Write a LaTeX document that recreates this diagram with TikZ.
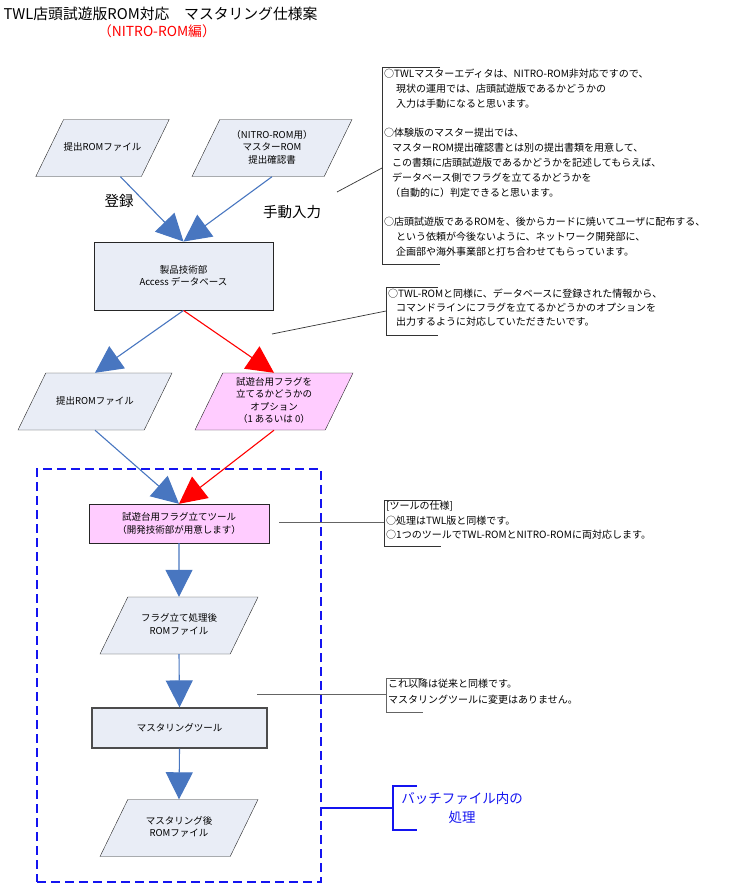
\documentclass[tikz,border=0pt]{standalone}
\usepackage{fontspec}
\setmainfont{Noto Sans CJK JP}
\usetikzlibrary{shapes.geometric,arrows.meta}
\definecolor{romfill}{RGB}{233,237,246}
\definecolor{flagfill}{RGB}{255,204,255}
\definecolor{flowblue}{RGB}{72,118,192}
\definecolor{batchblue}{RGB}{20,20,240}
\definecolor{notegray}{RGB}{100,100,100}
\newcommand{\romlines}[1]{\begin{tabular}{@{}c@{}}#1\end{tabular}}
\tikzset{
  romfile/.style={trapezium, trapezium left angle=64, trapezium right angle=116,
    trapezium stretches body=true, draw=black!85, fill=romfill,
    inner sep=0pt, text height=30.9pt, text depth=26.1pt,
    font=\fontsize{9.5}{12.5}\selectfont},
  procbox/.style={rectangle, draw=black!85, fill=romfill, inner sep=0pt,
    align=center, font=\fontsize{9.5}{12.5}\selectfont},
  blueflow/.style={draw=flowblue, line width=1.1pt, -{Triangle[width=27pt,length=27pt]}},
  redflow/.style={draw=red, line width=1.1pt, -{Triangle[width=27pt,length=27pt]}},
  memo/.style={anchor=north west, align=left, inner sep=0pt, font=\fontsize{10}{14.8}\selectfont},
  memoline/.style={draw=black!80, line width=0.7pt},
  bigword/.style={font=\fontsize{14.5}{17}\selectfont},
}
\begin{document}
\begin{tikzpicture}[x=1pt,y=-1pt]
\useasboundingbox (0,0) rectangle (742,884);
\node[anchor=west, font=\fontsize{14.8}{16}\selectfont] (title) at (0,14) {TWL店頭試遊版ROM対応　マスタリング仕様案};
\node[red, font=\fontsize{13.8}{16}\selectfont] (subtitle) at (157,31) {（NITRO-ROM編）};

\node[draw=batchblue, dash pattern=on 9pt off 5pt, line width=1.3pt, minimum width=284, minimum height=413, inner sep=0pt] (batch) at (179,675.5) {};

\node[romfile, minimum width=121] (teishutsu) at (102.5,148) {\romlines{提出ROMファイル}};
\node[romfile, minimum width=160] (kakunin) at (272,148) {\romlines{（NITRO-ROM用）\\マスターROM\\提出確認書}};
\node[procbox, minimum width=179, minimum height=68, line width=0.9pt] (db) at (183.5,276) {製品技術部\\Access データベース};
\node[romfile, minimum width=154] (subrom) at (95,401.5) {\romlines{提出ROMファイル}};
\node[romfile, fill=flagfill, minimum width=158] (flagopt) at (274,401.5) {\romlines{試遊台用フラグを\\立てるかどうかの\\オプション\\（1 あるいは 0）}};
\node[procbox, fill=flagfill, minimum width=180, minimum height=39] (tool) at (179,523.5) {試遊台用フラグ立てツール\\（開発技術部が用意します）};
\node[romfile, minimum width=158] (flagrom) at (179,625.5) {\romlines{フラグ立て処理後\\ROMファイル}};
\node[procbox, draw=black!70, line width=1.2pt, minimum width=175, minimum height=40] (master) at (179.5,728) {マスタリングツール};
\node[romfile, minimum width=158] (masterrom) at (179,828) {\romlines{マスタリング後\\ROMファイル}};

\node[bigword] (toroku) at (119,201) {登録};
\node[bigword] (shudo) at (292,212) {手動入力};

\draw[blueflow] (teishutsu.-58) -- (db.north);
\draw[blueflow] (kakunin.south) -- (db.north);
\draw[blueflow] (db.south) -- (subrom.north);
\draw[redflow] (db.south) -- (flagopt.north);
\draw[blueflow] (subrom.south) -- (tool.north);
\draw[redflow] (flagopt.south) -- (tool.north);
\draw[blueflow] (tool.south) -- (flagrom.north);
\draw[blueflow] (flagrom.south) -- (master.north);
\draw[blueflow] (master.south) -- (masterrom.north);

\draw[memoline] (440,67) -- (382,67) -- (382,264) -- (440,264);
\node[memo] (memo1) at (384,69) {○TWLマスターエディタは、NITRO-ROM非対応ですので、\\
\hspace*{1.2em}現状の運用では、店頭試遊版であるかどうかの\\
\hspace*{1.2em}入力は手動になると思います。\\[14.8pt]
○体験版のマスター提出では、\\
\hspace*{0.8em}マスターROM提出確認書とは別の提出書類を用意して、\\
\hspace*{0.8em}この書類に店頭試遊版であるかどうかを記述してもらえば、\\
\hspace*{0.8em}データベース側でフラグを立てるかどうかを\\
\hspace*{0.6em}（自動的に）判定できると思います。\\[14.8pt]
○店頭試遊版であるROMを、後からカードに焼いてユーザに配布する、\\
\hspace*{1.2em}という依頼が今後ないように、ネットワーク開発部に、\\
\hspace*{1.2em}企画部や海外事業部と打ち合わせてもらっています。};
\coordinate (m1) at (337,192);
\coordinate (n1) at (382,168);
\draw[memoline] (m1) -- (n1);

\draw[memoline] (438,287) -- (386,287) -- (386,335) -- (438,335);
\node[memo, font=\fontsize{10}{14}\selectfont] (memo2) at (388,289) {○TWL-ROMと同様に、データベースに登録された情報から、\\
\hspace*{0.8em}コマンドラインにフラグを立てるかどうかのオプションを\\
\hspace*{0.8em}出力するように対応していただきたいです。};
\coordinate (m2) at (272,334);
\coordinate (n2) at (386,311);
\draw[memoline] (m2) -- (n2);

\draw[memoline] (441,500) -- (384,500) -- (384,546) -- (441,546);
\node[memo, font=\fontsize{10}{14.5}\selectfont] (memo3) at (386,501) {[ツールの仕様]\\○処理はTWL版と同様です。\\○1つのツールでTWL-ROMとNITRO-ROMに両対応します。};
\coordinate (m3) at (279,522);
\coordinate (n3) at (384,522);
\draw[memoline, draw=notegray, line width=1pt] (m3) -- (n3);

\draw[memoline, draw=notegray, line width=1pt] (423,678) -- (386,678) -- (386,712) -- (423,712);
\node[memo, font=\fontsize{10}{16}\selectfont] (memo4) at (388,679) {これ以降は従来と同様です。\\マスタリングツールに変更はありません。};
\coordinate (m4) at (257,694);
\coordinate (n4) at (386,694);
\draw[memoline, draw=notegray, line width=1pt] (m4) -- (n4);

\draw[batchblue, line width=1.2pt] (417,786) -- (393,786) -- (393,830) -- (417,830);
\coordinate (n5) at (393,808);
\draw[batchblue, line width=1.2pt] (batch.east |- n5) -- (n5);
\node[batchblue, font=\fontsize{13.5}{19}\selectfont, align=center] (batchnote) at (462,807.5) {バッチファイル内の\\処理};
\end{tikzpicture}
\end{document}
